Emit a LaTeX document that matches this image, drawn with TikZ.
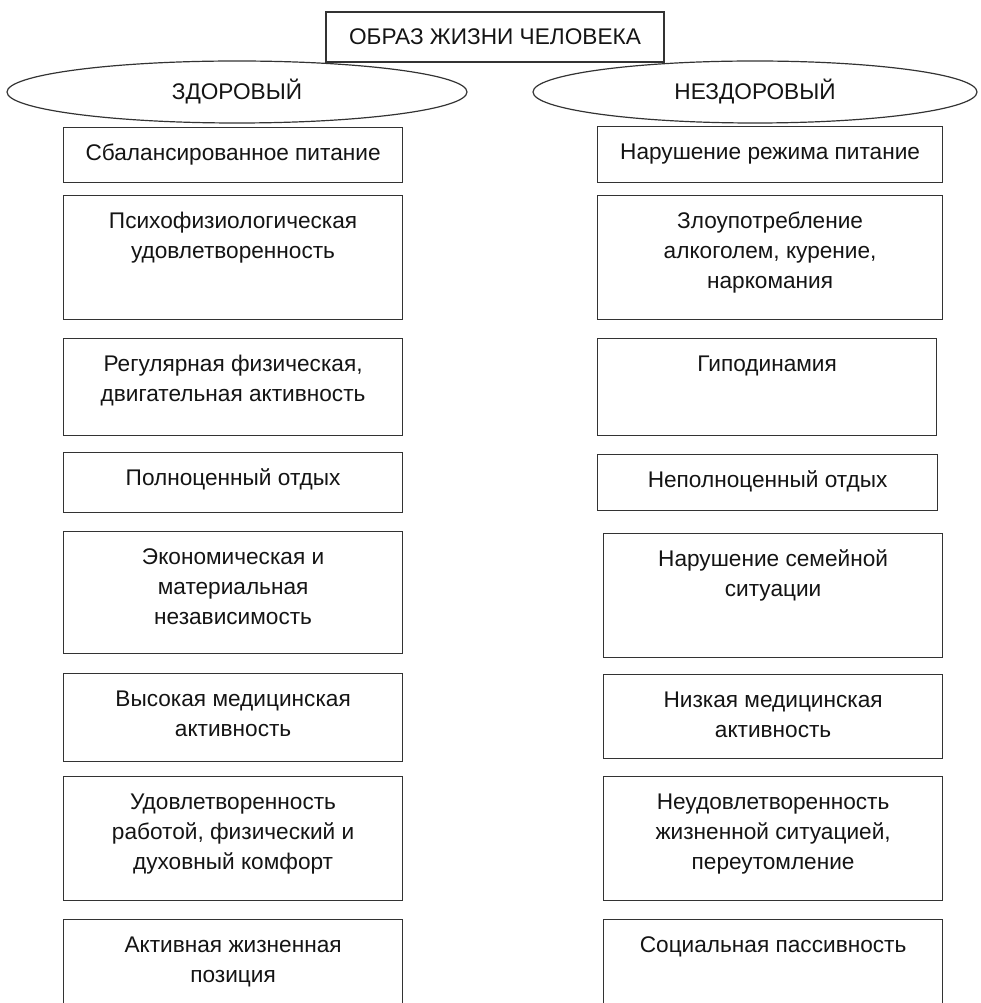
\documentclass[tikz,border=0pt]{standalone}
\usepackage{fontspec}
\setmainfont{Liberation Sans}
\usetikzlibrary{shapes.geometric,positioning}
\newcommand\px{0.025cm}

\begin{document}
\begin{tikzpicture}[
    x=\px, y=-\px,
    every node/.style={font=\fontsize{16.1pt}{21.3pt}\selectfont, text=black!92},
    title/.style={
        draw=black!80,
        line width=0.85pt,
        minimum width=338*\px,
        minimum height=50*\px,
        inner sep=0pt
    },
    kind/.style={
        ellipse,
        draw=black!80,
        line width=0.85pt,
        minimum height=62*\px,
        inner sep=0pt
    },
    item/.style={
        rectangle,
        draw=black!80,
        line width=0.85pt,
        anchor=north west,
        inner sep=0pt
    },
    caption/.style={
        anchor=north,
        align=center,
        inner sep=0pt,
        yshift=-12*\px
    }
    ]

    \useasboundingbox (0,0) rectangle (980,1003);

    % заголовок
    \node[title] (life) at (495,37) {ОБРАЗ ЖИЗНИ ЧЕЛОВЕКА};

    \node[kind, minimum width=460*\px] (healthy) at (237,92) {ЗДОРОВЫЙ};
    \node[kind, minimum width=444*\px] (unhealthy) at (755,92) {НЕЗДОРОВЫЙ};

    % левая колонка: здоровый образ жизни
    \node[item, minimum width=339*\px, minimum height=55*\px] (good1) at (63,127) {};
    \node[item, minimum width=339*\px, minimum height=124*\px] (good2) at (63,195) {};
    \node[item, minimum width=339*\px, minimum height=97*\px] (good3) at (63,338) {};
    \node[item, minimum width=339*\px, minimum height=60*\px] (good4) at (63,452) {};
    \node[item, minimum width=339*\px, minimum height=122*\px] (good5) at (63,531) {};
    \node[item, minimum width=339*\px, minimum height=88*\px] (good6) at (63,673) {};
    \node[item, minimum width=339*\px, minimum height=124*\px] (good7) at (63,776) {};
    \node[item, minimum width=339*\px, minimum height=95*\px] (good8) at (63,919) {};

    \node[caption] (goodtext1) at (good1.north) {\strut Сбалансированное питание};
    \node[caption] (goodtext2) at (good2.north) {\strut Психофизиологическая\\удовлетворенность};
    \node[caption] (goodtext3) at (good3.north) {\strut Регулярная физическая,\\двигательная активность};
    \node[caption] (goodtext4) at (good4.north) {\strut Полноценный отдых};
    \node[caption] (goodtext5) at (good5.north) {\strut Экономическая и\\материальная\\независимость};
    \node[caption] (goodtext6) at (good6.north) {\strut Высокая медицинская\\активность};
    \node[caption] (goodtext7) at (good7.north) {\strut Удовлетворенность\\работой, физический и\\духовный комфорт};
    \node[caption] (goodtext8) at (good8.north) {\strut Активная жизненная\\позиция};

    % правая колонка: нездоровый образ жизни
    \node[item, minimum width=345*\px, minimum height=56*\px] (bad1) at (597,126) {};
    \node[item, minimum width=345*\px, minimum height=124*\px] (bad2) at (597,195) {};
    \node[item, minimum width=339*\px, minimum height=97*\px] (bad3) at (597,338) {};
    \node[item, minimum width=340*\px, minimum height=56*\px] (bad4) at (597,454) {};
    \node[item, minimum width=339*\px, minimum height=124*\px] (bad5) at (603,533) {};
    \node[item, minimum width=339*\px, minimum height=84*\px] (bad6) at (603,674) {};
    \node[item, minimum width=339*\px, minimum height=124*\px] (bad7) at (603,776) {};
    \node[item, minimum width=339*\px, minimum height=95*\px] (bad8) at (603,919) {};

    \node[caption] (badtext1) at (bad1.north) {\strut Нарушение режима питание};
    \node[caption] (badtext2) at (bad2.north) {\strut Злоупотребление\\алкоголем, курение,\\наркомания};
    \node[caption] (badtext3) at (bad3.north) {\strut Гиподинамия};
    \node[caption] (badtext4) at (bad4.north) {\strut Неполноценный отдых};
    \node[caption] (badtext5) at (bad5.north) {\strut Нарушение семейной\\ситуации};
    \node[caption] (badtext6) at (bad6.north) {\strut Низкая медицинская\\активность};
    \node[caption] (badtext7) at (bad7.north) {\strut Неудовлетворенность\\жизненной ситуацией,\\переутомление};
    \node[caption] (badtext8) at (bad8.north) {\strut Социальная пассивность};

\end{tikzpicture}
\end{document}
